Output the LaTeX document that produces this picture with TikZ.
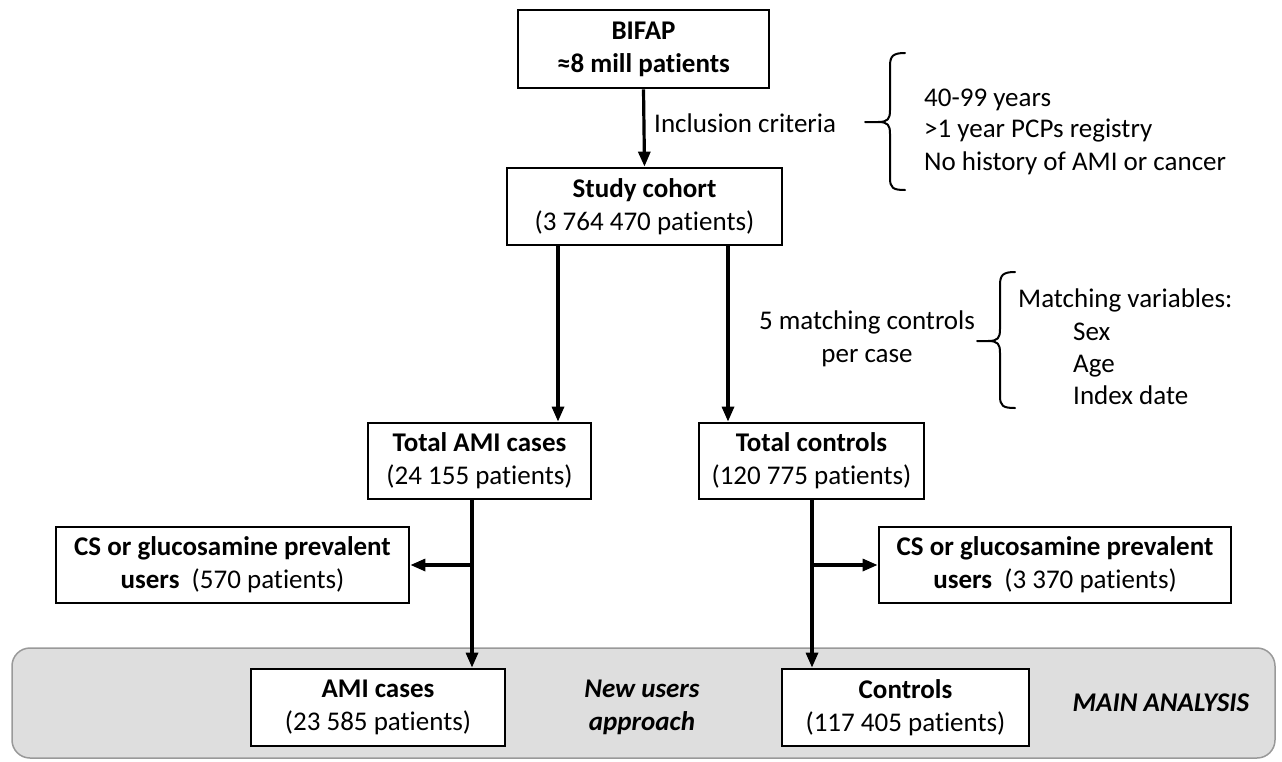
\documentclass[tikz,border=0pt]{standalone}
\usepackage{fontspec}
\setmainfont{Carlito}[Ligatures=NoCommon]
\usetikzlibrary{arrows.meta}
\begin{document}
\begin{tikzpicture}[x=1pt,y=-1pt,
  font=\fontsize{27}{33}\selectfont,
  box/.style={draw=black,line width=2.8pt,fill=white,align=center,inner sep=0pt},
  arr/.style={line width=3.2pt,-{Triangle[length=15pt,width=12pt]}},
  brc/.style={line width=2pt,line cap=round,line join=round},
  lbl/.style={inner sep=0pt,anchor=base west}]
\useasboundingbox (0,0) rectangle (1282,761);
% gray panel
\node[draw=black!40,fill=black!13,line width=1.5pt,rounded corners=18pt,minimum width=1263pt,minimum height=110pt,inner sep=0pt] (panel) at (643.5,703) {};
% boxes
\node[box,minimum width=251pt,minimum height=78pt] (bifap) at (643.5,49) {\textbf{BIFAP}\\\textbf{≈8 mill patients}};
\node[box,minimum width=275pt,minimum height=77pt] (cohort) at (644.5,206.5) {\textbf{Study cohort}\\(3 764 470 patients)};
\node[box,minimum width=223pt,minimum height=76pt] (totami) at (479.5,461) {\textbf{Total AMI cases}\\(24 155 patients)};
\node[box,minimum width=225pt,minimum height=76pt] (totctl) at (811.5,461) {\textbf{Total controls}\\(120 775 patients)};
\node[box,minimum width=353pt,minimum height=76pt] (csl) at (232.5,565) {\textbf{CS or glucosamine prevalent}\\\textbf{users}\ \ (570 patients)};
\node[box,minimum width=352pt,minimum height=76pt] (csr) at (1055,565) {\textbf{CS or glucosamine prevalent}\\\textbf{users}\ \ (3 370 patients)};
\node[box,minimum width=254pt,minimum height=77pt] (ami) at (378,707.5) {\textbf{AMI cases}\\(23 585 patients)};
\node[box,minimum width=247pt,minimum height=77pt] (ctl) at (905.5,707.5) {\textbf{Controls}\\(117 405 patients)};
% texts
\node[align=center,inner sep=0pt] (newusers) at (642,707) {\textbf{\textit{New users}}\\\textbf{\textit{approach}}};
\node[inner sep=0pt] (main) at (1161,703) {\textbf{\textit{MAIN ANALYSIS}}};
\node[lbl] (incl) at (654,132) {Inclusion criteria};
\node[lbl] (c1) at (924,106) {40-99 years};
\node[lbl] (c2) at (924,137) {>1 year PCPs registry};
\node[lbl] (c3) at (924,170) {No history of AMI or cancer};
\node[align=center,inner sep=0pt] (match) at (867,339) {5 matching controls\\per case};
\node[lbl] (mv) at (1018,307) {Matching variables:};
\node[lbl] (m1) at (1073,340) {Sex};
\node[lbl] (m2) at (1073,372) {Age};
\node[lbl] (m3) at (1073,404) {Index date};
% braces
\draw[brc] (905,53) .. controls (893,53) and (890,56) .. (890,66) -- (890,110) .. controls (890,119) and (888,122) .. (878,122) -- (865,122)
  (878,122) .. controls (888,122) and (890,125) .. (890,134) -- (890,178) .. controls (890,188) and (893,190) .. (905,190);
\draw[brc] (1015,272) .. controls (1003,272) and (1000,275) .. (1000,285) -- (1000,329) .. controls (1000,338) and (998,341) .. (988,341) -- (977,341)
  (988,341) .. controls (998,341) and (1000,344) .. (1000,353) -- (1000,396) .. controls (1000,406) and (1003,408) .. (1015,408);
% connectors
\draw[arr] (bifap.south) -- (cohort.north);
\draw[arr] ([xshift=-86.5pt]cohort.south) -- ([xshift=-86.5pt]cohort.south |- totami.north);
\draw[arr] ([xshift=83.5pt]cohort.south) -- ([xshift=83.5pt]cohort.south |- totctl.north);
\coordinate (lt) at (472,499);
\coordinate (rt) at (812,499);
\draw[arr] (lt) -- (lt |- ami.north);
\draw[arr] (rt) -- (rt |- ctl.north);
\draw[arr] (lt |- csl.east) -- (csl.east);
\draw[arr] (rt |- csr.west) -- (csr.west);
\end{tikzpicture}
\end{document}
